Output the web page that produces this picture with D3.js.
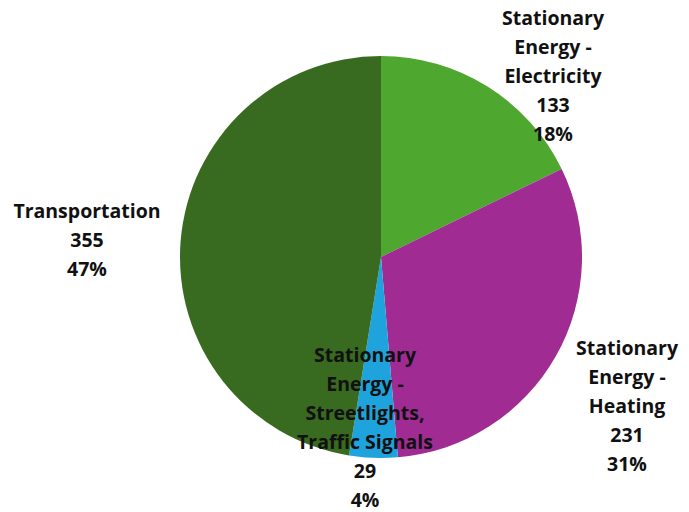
<!DOCTYPE html>
<html>
<head>
<meta charset="utf-8">
<script src="https://cdn.jsdelivr.net/npm/d3@7"></script>
<style>
  html, body { margin: 0; padding: 0; background: #ffffff; }
  svg { display: block; }
  text { font-family: "Open Sans", Lato, sans-serif; font-weight: 700; fill: #111; }
</style>
</head>
<body>
<svg id="chart" width="689" height="512"></svg>
<script>
// Emissions by sector
const categories = [
  "Stationary Energy - Electricity",
  "Stationary Energy - Heating",
  "Stationary Energy - Streetlights, Traffic Signals",
  "Transportation"
];
const values = [133, 231, 29, 355];
const percentLabels = ["18%", "31%", "4%", "47%"];
const labelLines = [
  ["Stationary", "Energy -", "Electricity"],
  ["Stationary", "Energy -", "Heating"],
  ["Stationary", "Energy -", "Streetlights,", "Traffic Signals"],
  ["Transportation"]
];
const colors = ["#4ea72e", "#a02b93", "#1ea3dc", "#386a1f"];

// Label placement: centre x and y of first line
const labelAnchor = [
  { x: 553, y: 18 },
  { x: 627, y: 348 },
  { x: 365, y: 355 },
  { x: 87, y: 211 }
];

const width = 689, height = 512;
const cx = 381, cy = 257, radius = 201;
const lineH = 29;

const svg = d3.select("#chart");
const g = svg.append("g").attr("transform", `translate(${cx},${cy})`);

const pie = d3.pie().sort(null).value(d => d.value);
const arc = d3.arc().innerRadius(0).outerRadius(radius);

const data = categories.map((c, i) => ({ name: c, value: values[i], i }));
const arcs = pie(data);

g.selectAll("path.slice")
  .data(arcs)
  .join("path")
  .attr("class", "slice")
  .attr("d", arc)
  .attr("fill", d => colors[d.data.i]);

const labels = svg.append("g");
arcs.forEach(a => {
  const i = a.data.i;
  const lines = labelLines[i].concat([String(a.data.value), percentLabels[i]]);
  const t = labels.append("text")
    .attr("text-anchor", "middle")
    .attr("font-size", 19.5);
  lines.forEach((ln, k) => {
    t.append("tspan")
      .attr("x", labelAnchor[i].x)
      .attr("y", labelAnchor[i].y + k * lineH)
      .attr("dy", "0.35em")
      .text(ln);
  });
});
</script>
</body>
</html>
